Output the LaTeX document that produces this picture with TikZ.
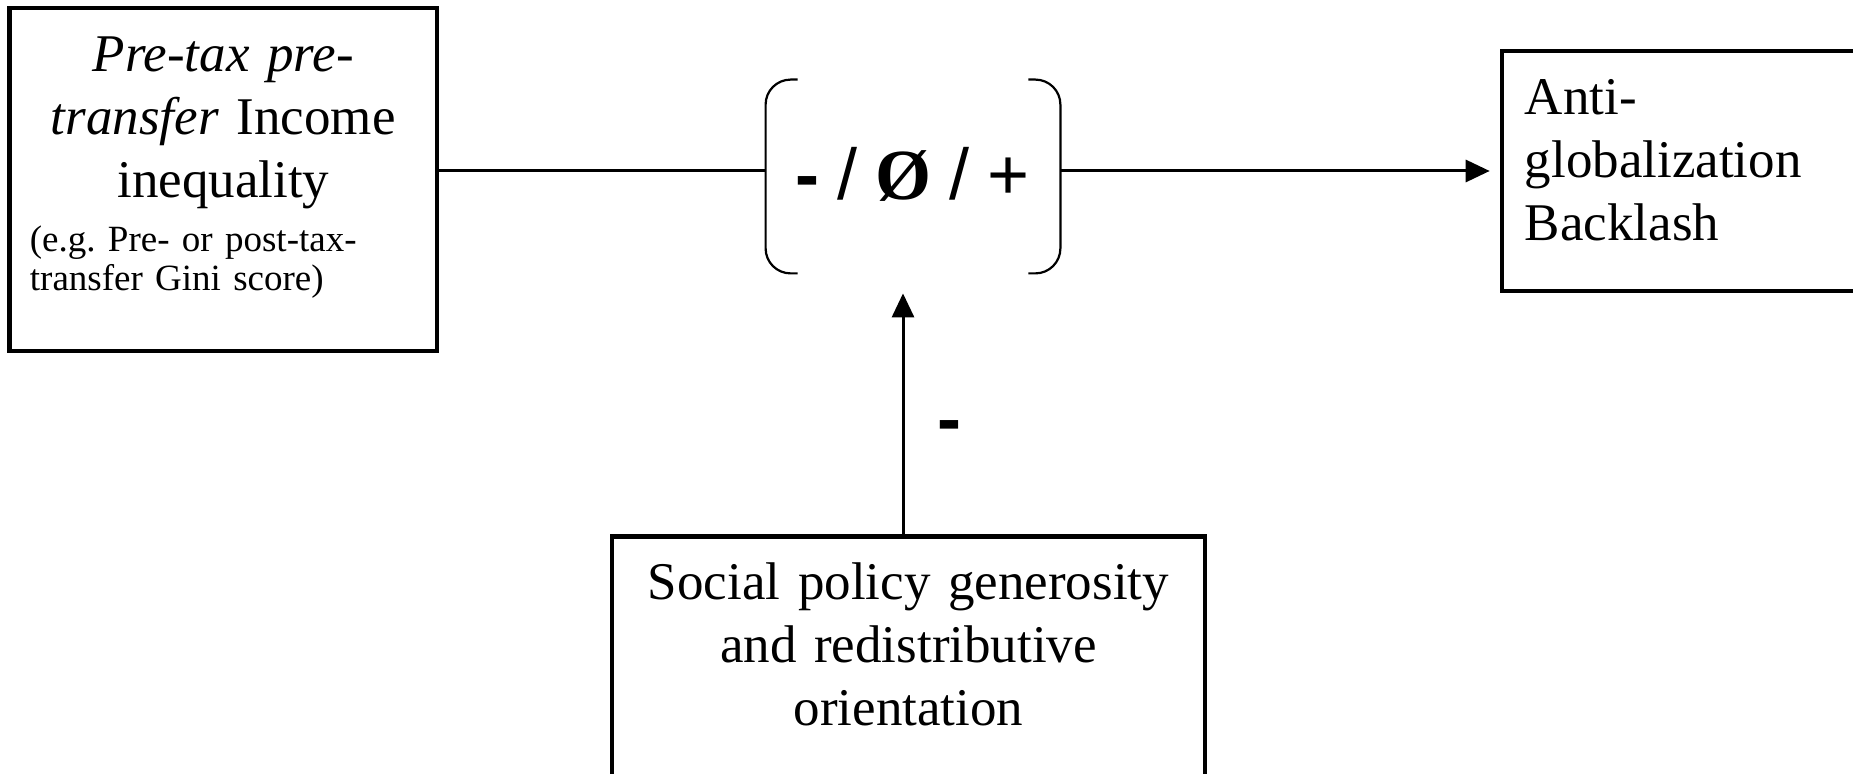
\documentclass[tikz,border=0pt]{standalone}
\usepackage{fontspec}
\setmainfont{Liberation Serif}
\newfontfamily\arialfont{Liberation Sans}
\usetikzlibrary{calc,positioning,arrows.meta}
\frenchspacing

\begin{document}
\begin{tikzpicture}[x=0.5pt, y=-0.5pt,
  box/.style={draw, line width=2.3pt, inner sep=0pt},
  txt/.style={inner sep=0pt, font=\fontsize{26.5}{31.5}\selectfont},
  note/.style={inner sep=0pt, font=\fontsize{18.5}{19.5}\selectfont},
  sign/.style={inner sep=0pt, font=\fontsize{36}{40}\selectfont},
  link/.style={line width=1.5pt},
  brace/.style={line width=1.1pt, rounded corners=12.5pt},
  >={Triangle[length=12pt, width=11pt]}]
  \clip (0,0) rectangle (1853,774);
  % the three boxes
  \node[box, minimum width=213.75pt, minimum height=171.5pt] (ineq) at (223.25,179.5) {};
  \node[box, minimum width=199pt, minimum height=120pt] (backlash) at (1701,171) {};
  \node[box, minimum width=296.5pt, minimum height=141.75pt] (policy) at (908.5,678.25) {};
  % moderator in round brackets
  \node[inner sep=0pt, minimum width=147pt, minimum height=96.5pt] (mod) at (913,176.5) {};
  \draw[brace] ([xshift=16pt]mod.north west) -- (mod.north west) -- (mod.south west) -- ([xshift=16pt]mod.south west);
  \draw[brace] ([xshift=-16pt]mod.north east) -- (mod.north east) -- (mod.south east) -- ([xshift=-16pt]mod.south east);
  \node[sign, anchor=base] (signs) at (913,200) {{\arialfont\bfseries -} {\arialfont /} {\bfseries Ø} {\arialfont /} {\arialfont +}};
  % texts
  \node[txt, anchor=base, align=center, text width=200pt] (ineqtxt) at (223.25,72)
    {\textit{Pre-tax pre-}\\\textit{transfer} Income\\inequality};
  \node[note, anchor=base west, align=left, text width=200pt] (ineqnote) at (29.5,252)
    {(e.g. Pre- or post-tax-\\transfer Gini score)};
  \node[txt, anchor=base west, align=left, text width=160pt] (backtxt) at (1524.5,115)
    {Anti-\\globalization\\Backlash};
  \node[txt, anchor=base, align=center, text width=290pt] (policytxt) at (908.5,600)
    {Social policy generosity\\and redistributive\\orientation};
  % connectors
  \draw[link] (ineq.east |- backlash.west) -- (mod.west |- backlash.west);
  \draw[link, ->, shorten >=5pt] (mod.east |- backlash.west) -- (backlash.west);
  \draw[link, ->, shorten >=10pt] ([xshift=-2.75pt]policy.north) -- ([xshift=-2.75pt]policy.north |- mod.south);
  \node[sign, anchor=base, font=\arialfont\bfseries\fontsize{36}{40}\selectfont] (minus) at (949,444) {-};
\end{tikzpicture}
\end{document}
